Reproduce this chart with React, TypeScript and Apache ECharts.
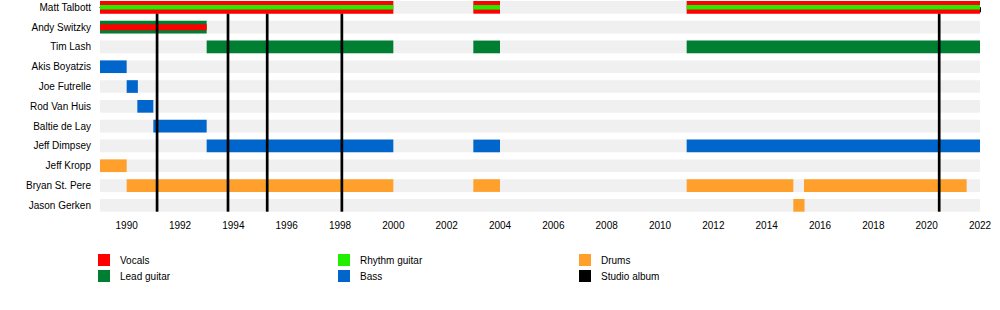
import React, { useEffect, useRef } from "react";
import * as echarts from "echarts";

const members = [
  "Matt Talbott",
  "Andy Switzky",
  "Tim Lash",
  "Akis Boyatzis",
  "Joe Futrelle",
  "Rod Van Huis",
  "Baltie de Lay",
  "Jeff Dimpsey",
  "Jeff Kropp",
  "Bryan St. Pere",
  "Jason Gerken",
];

// [start, end, rowIndex, stripe(1 = thin inner stripe)]
const vocals = [
  [1989, 2000, 0, 0],
  [2003, 2004, 0, 0],
  [2011, 2022, 0, 0],
  [1989, 1993, 1, 1],
];
const rhythmGuitar = [
  [1989, 2000, 0, 1],
  [2003, 2004, 0, 1],
  [2011, 2022, 0, 1],
];
const leadGuitar = [
  [1989, 1993, 1, 0],
  [1993, 2000, 2, 0],
  [2003, 2004, 2, 0],
  [2011, 2022, 2, 0],
];
const bass = [
  [1989, 1990, 3, 0],
  [1990, 1990.42, 4, 0],
  [1990.4, 1991, 5, 0],
  [1991, 1993, 6, 0],
  [1993, 2000, 7, 0],
  [2003, 2004, 7, 0],
  [2011, 2022, 7, 0],
];
const drums = [
  [1989, 1990, 8, 0],
  [1990, 2000, 9, 0],
  [2003, 2004, 9, 0],
  [2011, 2015, 9, 0],
  [2015.4, 2021.5, 9, 0],
  [2015, 2015.42, 10, 0],
];
const studioAlbums = [1991.14, 1993.8, 1995.27, 1998.07, 2020.47];

const startYear = 1989;
const endYear = 2022;

const COLORS = {
  vocals: "#ff0000",
  rhythm: "#22ee00",
  lead: "#007f33",
  bass: "#0066cc",
  drums: "#ffa02c",
  album: "#000000",
  bg: "#f0f0f0",
};

const FONT = "'Liberation Sans', Arial, sans-serif";

function barRenderer(color: string) {
  return (params: any, api: any) => {
    const row = api.value(2);
    const s = api.coord([api.value(0), row]);
    const e = api.coord([api.value(1), row]);
    const unit = api.size([0, 1])[1];
    const stripe = api.value(3) === 1;
    const h = stripe ? (color === COLORS.rhythm ? 4.5 : 6) : unit * 0.64;
    return {
      type: "rect",
      shape: { x: s[0], y: s[1] - h / 2, width: e[0] - s[0], height: h },
      style: { fill: color },
    };
  };
}

export default function App() {
  const ref = useRef<HTMLDivElement>(null);

  useEffect(() => {
    document.body.style.margin = "0";
    const chart = echarts.init(ref.current!, null, { renderer: "svg" });

    const bgData = members.map((_, i) => [startYear, endYear, i, 0]);

    const mk = (name: string, data: number[][], color: string) => ({
      name,
      type: "custom",
      renderItem: barRenderer(color),
      encode: { x: [0, 1], y: 2 },
      itemStyle: { color },
      data,
      silent: true,
    });

    const legendBase = {
      orient: "vertical",
      padding: 0,
      itemWidth: 12,
      itemHeight: 12,
      itemGap: 4,
      icon: "rect",
      selectedMode: false,
      textStyle: { fontFamily: FONT, fontSize: 10, color: "#000", padding: [0, 0, 0, 5] },
    };

    chart.setOption({
      animation: false,
      grid: { left: 100, right: 20, top: 0, height: 210.5 },
      xAxis: {
        type: "value",
        min: startYear,
        max: endYear,
        interval: 1,
        axisLine: { show: true, lineStyle: { color: "#000", width: 1 } },
        axisTick: { show: true, length: 5, lineStyle: { color: "#000" } },
        axisLabel: {
          margin: 10,
          fontFamily: FONT,
          fontSize: 10,
          color: "#000",
          formatter: (v: number) => (v % 2 === 0 ? String(v) : ""),
        },
        splitLine: { show: false },
      },
      yAxis: {
        type: "value",
        inverse: true,
        min: -0.37,
        max: 10.26,
        show: false,
        splitLine: { show: false },
      },
      legend: [
        { ...legendBase, left: 98, top: 254, data: ["Vocals", "Lead guitar"] },
        { ...legendBase, left: 338, top: 254, data: ["Rhythm guitar", "Bass"] },
        { ...legendBase, left: 579, top: 254, data: ["Drums", "Studio album"] },
      ],
      series: [
        {
          name: "bg",
          type: "custom",
          silent: true,
          encode: { x: [0, 1], y: 2 },
          data: bgData,
          renderItem: (params: any, api: any) => {
            const row = api.value(2);
            const s = api.coord([api.value(0), row]);
            const e = api.coord([api.value(1), row]);
            const h = api.size([0, 1])[1] * 0.64;
            return {
              type: "group",
              children: [
                {
                  type: "rect",
                  shape: { x: s[0], y: s[1] - h / 2, width: e[0] - s[0], height: h },
                  style: { fill: COLORS.bg },
                },
                {
                  type: "text",
                  x: s[0] - 9,
                  y: s[1],
                  style: {
                    text: members[row],
                    align: "right",
                    verticalAlign: "middle",
                    fontFamily: FONT,
                    fontSize: 10,
                    fill: "#000",
                  },
                },
              ],
            };
          },
        },
        mk("Lead guitar", leadGuitar, COLORS.lead),
        mk("Vocals", vocals, COLORS.vocals),
        mk("Rhythm guitar", rhythmGuitar, COLORS.rhythm),
        mk("Bass", bass, COLORS.bass),
        mk("Drums", drums, COLORS.drums),
        {
          name: "Studio album",
          type: "custom",
          silent: true,
          itemStyle: { color: COLORS.album },
          encode: { x: 0 },
          data: studioAlbums.map((y) => [y]),
          renderItem: (params: any, api: any) => {
            const year = api.value(0);
            const unit = api.size([0, 1])[1];
            const top = api.coord([year, 0]);
            const bottom = api.coord([year, members.length - 1]);
            return {
              type: "line",
              shape: {
                x1: top[0],
                y1: top[1] + unit * 0.32,
                x2: top[0],
                y2: bottom[1] + unit * 0.32,
              },
              style: { stroke: COLORS.album, lineWidth: 2.7 },
            };
          },
        },
      ],
    });

    return () => chart.dispose();
  }, []);

  return <div ref={ref} style={{ width: 1000, height: 310 }} />;
}
